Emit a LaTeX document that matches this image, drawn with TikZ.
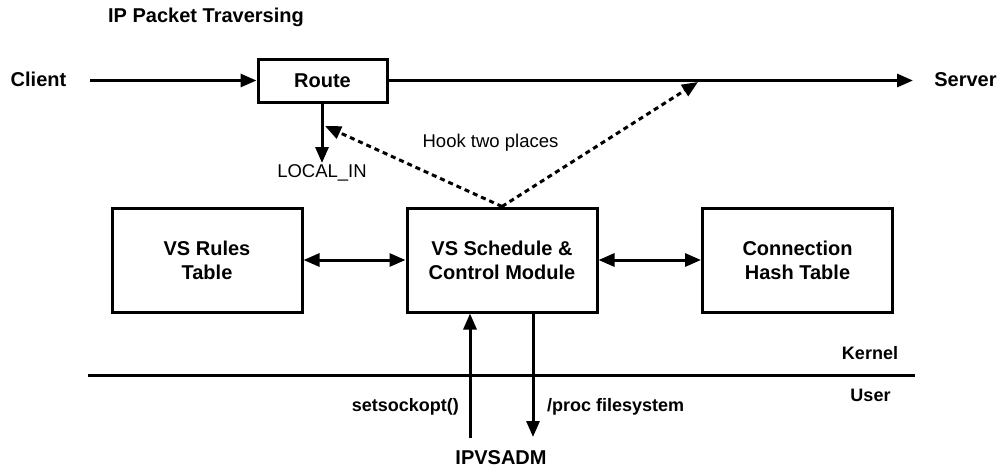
\documentclass[tikz,border=0pt]{standalone}
\usepackage{fontspec}
\setmainfont{Liberation Sans}
\usetikzlibrary{arrows.meta}
\begin{document}
\begin{tikzpicture}[x=1pt,y=-1pt,
  tip/.tip={Triangle[length=16pt,width=13pt]},
  modbox/.style={draw, line width=3pt, inner sep=0pt, minimum width=190pt,
    minimum height=104pt, align=center,
    font=\fontsize{20}{24}\selectfont\bfseries},
  routebox/.style={draw, line width=3pt, inner sep=0pt, minimum width=129pt,
    minimum height=43pt, font=\fontsize{20}{24}\selectfont\bfseries},
  bigtxt/.style={inner sep=0pt, font=\fontsize{20}{24}\selectfont\bfseries},
  midtxt/.style={inner sep=0pt, font=\fontsize{18}{22}\selectfont\bfseries},
  plaintxt/.style={inner sep=0pt, font=\fontsize{18.5}{22}\selectfont},
  wire/.style={line width=3pt},
  flow/.style={line width=3pt, -tip},
  both/.style={line width=3pt, tip-tip},
  hook/.style={line width=3pt, dash pattern=on 5pt off 4pt, -tip}
]
% canvas
\fill[white] (0,0) rectangle (1004,472);
\useasboundingbox (0,0) rectangle (1004,472);

% title
\node[bigtxt] (title) at (206,17) {IP Packet Traversing};

% packet path
\node[bigtxt] (client) at (38.5,79) {Client};
\node[bigtxt] (server) at (965.5,80) {Server};
\node[routebox] (route) at (322.5,80.5) {Route};
\coordinate (pathL) at (90,80.5);
\coordinate (pathR) at (913,80.5);
\draw[flow] (pathL) -- (route.west);
\draw[flow] (route.east) -- (pathR);

% local input branch
\coordinate (localtip) at (322,163);
\draw[flow] (route.south -| localtip) -- (localtip);
\node[plaintxt] (localin) at (322,173) {LOCAL\_IN};

% kernel modules
\node[modbox] (rules) at (207,260) {VS Rules\\Table};
\node[modbox] (sched) at (502,260) {VS Schedule \&\\Control Module};
\node[modbox] (conn) at (797.5,260) {Connection\\Hash Table};
\draw[both] (rules.east) -- (sched.west);
\draw[both] (sched.east) -- (conn.west);

% hooks
\coordinate (hookA) at (325,126);
\coordinate (hookB) at (698,82);
\draw[hook] (sched.north) -- (hookA);
\draw[hook] (sched.north) -- (hookB);
\node[plaintxt] (hooktxt) at (490.5,143) {Hook two places};

% kernel / user boundary
\coordinate (kl) at (88,375);
\coordinate (kr) at (915,375);
\draw[wire] (kl) -- (kr);
\node[midtxt] (kernel) at (870,353) {Kernel};
\node[midtxt] (user) at (870.5,395) {User};

% user-space tool
\node[bigtxt] (ipvsadm) at (501,458) {IPVSADM};
\coordinate (upfoot) at (470,438);
\coordinate (downtip) at (533,437);
\draw[flow] (upfoot) -- (upfoot |- sched.south);
\draw[flow] (downtip |- sched.south) -- (downtip);
\node[midtxt, anchor=east] (sso) at (459,407) {setsockopt()};
\node[midtxt, anchor=west] (procfs) at (547,407) {/proc filesystem};
\end{tikzpicture}
\end{document}
